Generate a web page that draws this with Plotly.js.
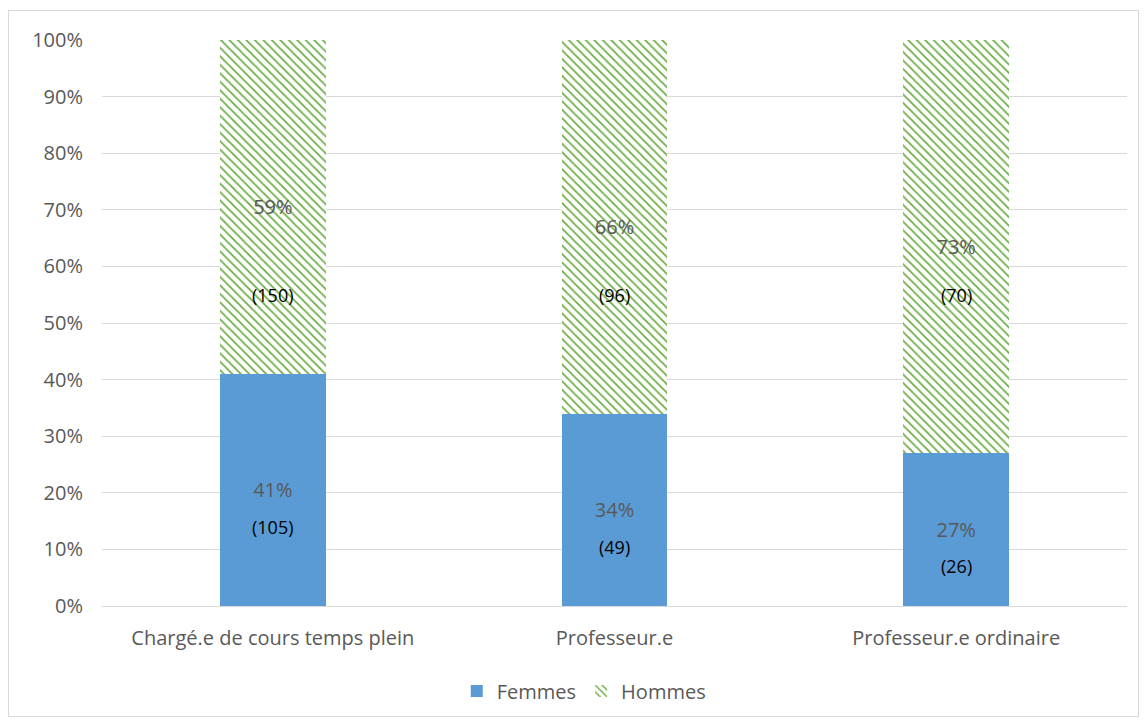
<!DOCTYPE html>
<html>
<head>
<meta charset="utf-8">
<script src="https://cdn.plot.ly/plotly-3.0.1.min.js"></script>
<style>
body{margin:0;padding:0;background:#fff;}
#wrap{position:relative;width:1144px;height:722px;}
#chart{position:absolute;left:0;top:0;width:1144px;height:722px;}
#frame{position:absolute;left:8px;top:10px;width:1129px;height:705px;border:1px solid #d9d9d9;pointer-events:none;}
</style>
</head>
<body>
<div id="wrap"><div id="chart"></div><div id="frame"></div></div>
<script>
const categories = ["Chargé.e de cours temps plein", "Professeur.e", "Professeur.e ordinaire"];
const femmesPct = [41, 34, 27];
const hommesPct = [59, 66, 73];
const femmesCount = [105, 49, 26];
const hommesCount = [150, 96, 70];
const yTicks = [0, 10, 20, 30, 40, 50, 60, 70, 80, 90, 100];

const font = "'Open Sans', Lato, sans-serif";

const femmes = {
  type: 'bar', name: 'Femmes', x: categories, y: femmesPct,
  marker: {color: '#5B9BD5', line: {width: 0}},
  text: femmesPct.map(v => v + '%'), textposition: 'inside', insidetextanchor: 'middle',
  textfont: {family: font, size: 20, color: '#595959'}, hoverinfo: 'none'
};
const hommes = {
  type: 'bar', name: 'Hommes', x: categories, y: hommesPct,
  marker: {color: '#ffffff', line: {width: 0},
    pattern: {shape: '\\', fgcolor: '#70AD47', bgcolor: '#ffffff', size: 6, solidity: 0.3}},
  text: hommesPct.map(v => v + '%'), textposition: 'inside', insidetextanchor: 'middle',
  textfont: {family: font, size: 20, color: '#595959'}, hoverinfo: 'none'
};

const annotations = [];
categories.forEach((c, i) => {
  annotations.push({x: c, y: femmesPct[i] / 2 - 6.5, xref: 'x', yref: 'y', text: '(' + femmesCount[i] + ')',
    showarrow: false, font: {family: font, size: 18, color: '#000000'}});
  annotations.push({x: c, y: 55, xref: 'x', yref: 'y', text: '(' + hommesCount[i] + ')',
    showarrow: false, font: {family: font, size: 18, color: '#000000'}});
});

const layout = {
  width: 1144, height: 722,
  margin: {l: 102, r: 17, t: 40, b: 116},
  barmode: 'stack', bargap: 0.69,
  paper_bgcolor: '#ffffff', plot_bgcolor: '#ffffff',
  font: {family: font, size: 20, color: '#595959'},
  xaxis: {showgrid: false, showline: true, linecolor: '#d9d9d9', linewidth: 1, ticks: '',
    tickfont: {family: font, size: 20, color: '#595959'}, ticklabelstandoff: 14},
  yaxis: {range: [0, 100], tickvals: yTicks, ticktext: yTicks.map(v => v + '%'),
    showgrid: true, gridcolor: '#d9d9d9', gridwidth: 1, zeroline: false, showline: false,
    tickfont: {family: font, size: 20, color: '#595959'}, ticklabelstandoff: 18, fixedrange: true},
  showlegend: true,
  legend: {orientation: 'h', x: 0.47, xanchor: 'center', y: -0.15, yanchor: 'middle',
    font: {family: font, size: 20, color: '#595959'}, traceorder: 'normal', itemwidth: 30},
  annotations: annotations
};

Plotly.newPlot('chart', [femmes, hommes], layout, {displayModeBar: false, staticPlot: true});
</script>
</body>
</html>
